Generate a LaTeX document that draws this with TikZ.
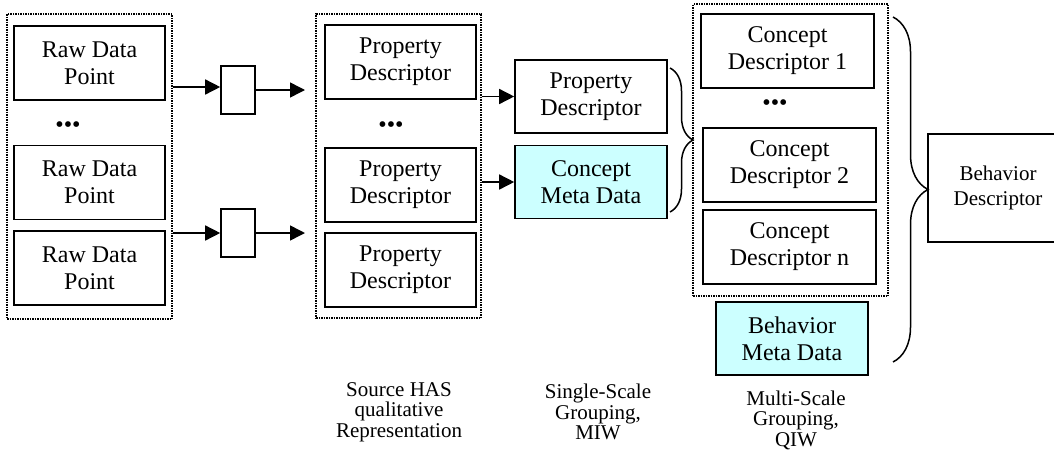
\documentclass[tikz,border=0pt]{standalone}
\usepackage{fontspec}
\setmainfont{Liberation Serif}
\usetikzlibrary{positioning}
\usetikzlibrary{calc}
\usetikzlibrary{arrows.meta,decorations.pathreplacing}

\definecolor{metacyan}{RGB}{204,255,255}
\newcommand{\boxfont}{\fontsize{24}{27}\selectfont}
\newcommand{\notefont}{\fontsize{21}{20.5}\selectfont}

\begin{document}
\begin{tikzpicture}[x=1pt,y=-1pt,
  box/.style={draw,line width=1.6pt,inner sep=0pt,align=center,font=\boxfont,
    minimum width=151pt,minimum height=74pt},
  conc/.style={box,minimum width=173pt},
  meta/.style={box,fill=metacyan},
  filter/.style={draw,line width=1.6pt,minimum width=34pt,minimum height=48pt,inner sep=0pt},
  grp/.style={draw,line width=1.4pt,dash pattern=on 1.5pt off 1pt,inner sep=0pt},
  dots/.style={font=\boxfont,inner sep=0pt},
  note/.style={align=center,font=\notefont,inner sep=0pt},
  arr/.style={line width=1.5pt,-{Triangle[length=15pt,width=15pt]}},
  brc/.style={line width=1.5pt,decorate,decoration={brace}}]
\useasboundingbox (0,0) rectangle (1054,453);
\clip (0,0) rectangle (1054,453);

% groups
\node[grp,minimum width=165pt,minimum height=305pt](grpA) at (89.5,166.5){};
\node[grp,minimum width=165pt,minimum height=304pt](grpB) at (398.5,166){};
\node[grp,minimum width=195pt,minimum height=292pt](grpC) at (790.5,150){};

\node[box](rawA) at (89.5,63){Raw Data\\Point};
\node[dots](dotsA) at (68,127){•••};
\node[box](rawB) at (89.5,182.5){Raw Data\\Point};
\node[box](rawC) at (89.5,268){Raw Data\\Point};

\node[filter](filterA) at (238,90){};
\node[filter](filterB) at (238,233){};
\coordinate (endA) at (305,90);
\coordinate (endB) at (305,233);

\node[box](propA) at (400.5,62){Property\\Descriptor};
\node[dots](dotsB) at (391,127){•••};
\node[box](propB) at (400.5,185){Property\\Descriptor};
\node[box](propC) at (400.5,270){Property\\Descriptor};

\node[box,minimum width=152pt,minimum height=73pt](propD) at (591,96.5){Property\\Descriptor};
\node[meta,minimum width=152pt,minimum height=73pt](cmeta) at (591,182){Concept\\Meta Data};

\node[conc](concA) at (787.5,51){Concept\\Descriptor 1};
\node[dots](dotsC) at (775,105){•••};
\node[conc](concB) at (789.5,165){Concept\\Descriptor 2};
\node[conc](concN) at (789.5,247){Concept\\Descriptor n};
\node[meta,minimum width=152pt,minimum height=73pt](bmeta) at (792,338.5){Behavior\\Meta Data};

\node[draw,line width=1.6pt,align=center,font=\fontsize{21}{25}\selectfont,
  minimum width=140pt,minimum height=108pt,inner sep=0pt](behav) at (998,188){Behavior\\Descriptor};

\node[note](noteA) at (399,412){Source HAS\\qualitative\\Representation};
\node[note](noteB) at (598,412){Single-Scale\\Grouping,\\MIW};
\node[note](noteC) at (796,420){Multi-Scale\\Grouping,\\QIW};

\path
([yshift=3pt]filterA.west -| grpA.east) edge[arr] ([yshift=3pt]filterA.west)
(filterA.east) edge[arr] (endA)
(filterB.west -| grpA.east) edge[arr] (filterB.west)
(filterB.east) edge[arr] (endB)
(propD.west -| grpB.east) edge[arr] (propD.west)
(cmeta.west -| grpB.east) edge[arr] (cmeta.west);

% braces
\draw[brc,decoration={amplitude=23pt}] (670,68) -- (670,212);
\draw[brc,decoration={amplitude=35pt}] (893,17) -- (893,362);
\end{tikzpicture}
\end{document}
